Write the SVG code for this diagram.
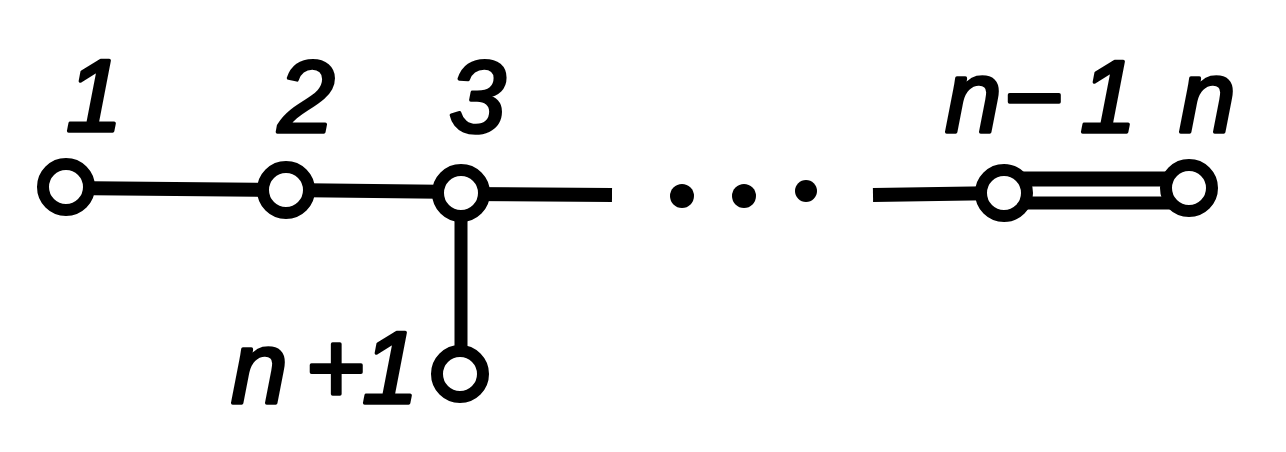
<svg xmlns="http://www.w3.org/2000/svg" width="1286" height="452" viewBox="0 0 1286 452">
<style>
.node{fill:#fff;stroke:#000;stroke-width:12}
.edge{stroke:#000;stroke-width:14;fill:none;stroke-linecap:butt}
.lbl{font-family:"Liberation Sans",Arial,sans-serif;font-style:italic;font-weight:normal;font-size:102px;fill:#000;stroke:#000;stroke-width:3.5;stroke-linejoin:round}
.dot{fill:#000}
</style>
<rect width="1286" height="452" fill="#fff"/>
<g id="connectors">
<line class="edge" x1="66" y1="188" x2="286" y2="190"/>
<line class="edge" x1="286" y1="190" x2="461" y2="192"/>
<line class="edge" x1="461" y1="194" x2="612" y2="195"/>
<line class="edge" x1="461" y1="193" x2="461" y2="374" style="stroke-width:13"/>
<line class="edge" x1="873" y1="195" x2="1004" y2="193"/>
<line class="edge" x1="1004" y1="179" x2="1189" y2="179" style="stroke-width:15"/>
<line class="edge" x1="1004" y1="203" x2="1189" y2="203" style="stroke-width:13"/>
</g>
<g id="ellipsis">
<circle class="dot" cx="682" cy="196" r="12"/>
<circle class="dot" cx="744" cy="196" r="12"/>
<circle class="dot" cx="806" cy="191" r="11"/>
</g>
<g id="node1"><circle class="node" cx="66" cy="187" r="23"/><text class="lbl" x="66" y="131">1</text></g>
<g id="node2"><circle class="node" cx="286" cy="190" r="23"/><text class="lbl" x="278" y="132">2</text></g>
<g id="node3"><circle class="node" cx="461" cy="193" r="23"/><text class="lbl" x="449" y="132">3</text></g>
<g id="node_n-1"><circle class="node" cx="1004" cy="193" r="23"/><text class="lbl" x="945 1003 1080" y="132">n−1</text></g>
<g id="node_n"><circle class="node" cx="1189" cy="188" r="23"/><text class="lbl" x="1179" y="132">n</text></g>
<g id="node_n+1"><circle class="node" cx="460" cy="374" r="23"/><text class="lbl" x="231 305 362" y="403">n+1</text></g>
</svg>
